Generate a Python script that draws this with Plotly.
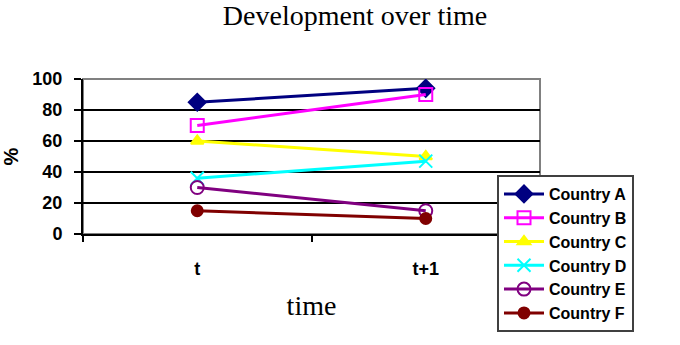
import plotly.graph_objects as go

categories = ["t", "t+1"]
series_names = ["Country A", "Country B", "Country C", "Country D", "Country E", "Country F"]
country_a = [85, 94]
country_b = [70, 90]
country_c = [60, 50]
country_d = [36, 47]
country_e = [30, 15]
country_f = [15, 10]
y_ticks = [0, 20, 40, 60, 80, 100]

values = [country_a, country_b, country_c, country_d, country_e, country_f]
colors = ["#000080", "#FF00FF", "#FFFF00", "#00FFFF", "#800080", "#800000"]
symbols = ["diamond", "square-open", "triangle-up", "x-thin-open", "circle-open", "circle"]
sizes = [13, 13, 11, 13, 13, 11]

fig = go.Figure()
for name, vals, col, sym, sz in zip(series_names, values, colors, symbols, sizes):
    fig.add_trace(go.Scatter(
        x=categories, y=vals, name=name, mode="lines+markers",
        line=dict(color=col, width=3),
        marker=dict(symbol=sym, size=sz, color=col, line=dict(color=col, width=2)),
    ))

sans = "Arial, Liberation Sans, sans-serif"
serif = "Times New Roman, Liberation Serif, serif"

fig.update_layout(
    width=680, height=345,
    margin=dict(l=83, r=140, t=79, b=111, autoexpand=False),
    paper_bgcolor="white", plot_bgcolor="white",
    title=dict(text="Development over time", font=dict(family=serif, size=28, color="black"),
               xref="container", x=355/680, xanchor="center",
               yref="container", y=1 - 15/345, yanchor="middle"),
    showlegend=True,
    legend=dict(x=(497-83)/457, y=(234-175)/155, xanchor="left", yanchor="top",
                bgcolor="white", bordercolor="#404040", borderwidth=2,
                font=dict(family=sans, size=16, color="black", weight="bold"),
                tracegroupgap=0, maxheight=300, itemwidth=40),
    xaxis=dict(type="category", range=[-0.5, 1.5], tickson="boundaries",
               ticks="outside", ticklen=6, tickwidth=1.5, tickcolor="black",
               showline=True, linecolor="black", linewidth=2, showgrid=False,
               tickfont=dict(family=sans, size=18, color="black", weight="bold"),
               ticklabelstandoff=17,
               title=dict(text="time", font=dict(family=serif, size=28, color="black"), standoff=18)),
    yaxis=dict(range=[0, 100], tickvals=y_ticks, ticks="outside", ticklen=7, tickwidth=1.5,
               tickcolor="black", showline=True, linecolor="black", linewidth=2,
               showgrid=True, gridcolor="black", gridwidth=1.5, zeroline=False,
               tickfont=dict(family=sans, size=18, color="black", weight="bold"),
               ticklabelstandoff=8,
               title=dict(text="%", font=dict(family=sans, size=20, color="black", weight="bold"), standoff=18)),
    shapes=[dict(type="rect", xref="paper", yref="paper", x0=0, x1=1, y0=0, y1=1,
                 line=dict(color="#808080", width=2), layer="between")],
)

fig.write_html("out.html")
